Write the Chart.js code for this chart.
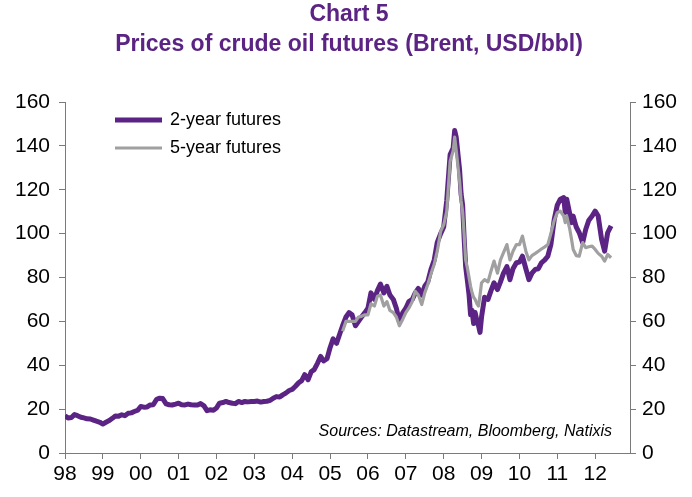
<!DOCTYPE html>
<html><head><meta charset="utf-8">
<script src="https://cdn.jsdelivr.net/npm/chart.js@4.4.1/dist/chart.umd.min.js"></script>
<style>html,body{margin:0;padding:0;background:#fff}#wrap{width:692px;height:497px;position:relative}</style>
</head><body><div id="wrap"><canvas id="c" width="692" height="497"></canvas></div>
<script>
const titleLines = ["Chart 5", "Prices of crude oil futures (Brent, USD/bbl)"];
const seriesNames = ["2-year futures", "5-year futures"];
const sourceNote = "Sources: Datastream, Bloomberg, Natixis";
const yearTicks = [1998,1999,2000,2001,2002,2003,2004,2005,2006,2007,2008,2009,2010,2011,2012];
const valueTicks = [0,20,40,60,80,100,120,140,160];

const dates2y = [
1998.00,1998.08,1998.17,1998.25,1998.33,1998.42,1998.50,1998.58,1998.67,1998.75,1998.83,1998.92,
1999.00,1999.08,1999.17,1999.25,1999.33,1999.42,1999.50,1999.58,1999.67,1999.75,1999.83,1999.92,
2000.00,2000.08,2000.17,2000.25,2000.33,2000.42,2000.50,2000.58,2000.67,2000.75,2000.83,2000.92,
2001.00,2001.08,2001.17,2001.25,2001.33,2001.42,2001.50,2001.58,2001.67,2001.75,2001.83,2001.92,
2002.00,2002.08,2002.17,2002.25,2002.33,2002.42,2002.50,2002.58,2002.67,2002.75,2002.83,2002.92,
2003.00,2003.08,2003.17,2003.25,2003.33,2003.42,2003.50,2003.58,2003.67,2003.75,2003.83,2003.92,
2004.00,2004.08,2004.17,2004.25,2004.33,2004.42,2004.50,2004.58,2004.67,2004.75,2004.83,2004.92,
2005.00,2005.08,2005.17,2005.25,2005.33,2005.42,2005.50,2005.58,2005.67,2005.75,2005.83,2005.92,
2006.00,2006.08,2006.17,2006.25,2006.33,2006.42,2006.50,2006.58,2006.67,2006.75,2006.83,2006.92,
2007.00,2007.08,2007.17,2007.25,2007.33,2007.42,2007.50,2007.58,2007.67,2007.75,2007.83,2007.92,
2008.00,2008.08,2008.17,2008.25,2008.29,2008.33,2008.42,2008.46,2008.50,2008.54,2008.58,2008.63,2008.67,2008.71,2008.75,2008.79,2008.83,2008.88,2008.92,2008.96,
2009.00,2009.08,2009.17,2009.25,2009.33,2009.42,2009.50,2009.58,2009.67,2009.75,2009.83,2009.92,
2010.00,2010.08,2010.17,2010.25,2010.33,2010.42,2010.50,2010.58,2010.67,2010.75,2010.83,2010.92,
2011.00,2011.08,2011.17,2011.21,2011.25,2011.33,2011.38,2011.42,2011.50,2011.58,2011.67,2011.75,2011.83,2011.92,
2012.00,2012.08,2012.17,2012.25,2012.33,2012.42];
const fut2y = [
17.0,16.0,16.2,17.5,17.0,16.3,16.0,15.6,15.5,15.0,14.5,14.0,
13.2,14.0,14.8,15.8,16.9,16.8,17.4,17.0,18.1,18.3,18.9,19.5,
21.2,20.9,21.0,21.9,22.0,24.5,25.0,24.8,22.4,22.0,21.9,22.3,
22.7,22.0,21.9,22.3,22.0,21.9,21.9,22.5,21.5,19.3,19.7,19.5,
20.5,22.7,23.0,23.5,23.0,22.7,22.5,23.5,23.0,23.5,23.3,23.5,
23.5,23.7,23.2,23.5,23.6,24.0,25.0,25.7,25.5,26.5,27.3,28.5,
29.0,30.3,32.0,33.0,35.7,33.4,37.0,38.0,41.0,44.0,42.0,43.0,
48.0,52.0,50.0,54.0,58.0,62.0,64.0,63.0,58.0,60.0,62.0,64.0,
66,73,70,74,77,73,76,72,70,66,60,64,
66,69,70,73,75,72,76,78,84,88,96,100,
103,115,136,139,147,144,129,118,113,98,85,78,72,63,65,59,64,60,58,55,
62,71,70,74,77.6,74.5,78,82,85,79,84,86.7,
87,89.7,84,79,82,83.7,84,86.7,88,89.7,95,106.5,
113,115.7,116.4,109.6,115.7,109,105,108,103,100.4,95.9,101.9,106,108,
110.3,108,97.4,92,100.4,103.5];

const dates5y = [
2005.33,2005.42,2005.50,2005.58,2005.67,2005.75,2005.83,2005.92,
2006.00,2006.08,2006.17,2006.25,2006.33,2006.42,2006.50,2006.58,2006.67,2006.75,2006.83,2006.92,
2007.00,2007.08,2007.17,2007.25,2007.33,2007.42,2007.50,2007.58,2007.67,2007.75,2007.83,2007.92,
2008.00,2008.08,2008.17,2008.25,2008.29,2008.33,2008.42,2008.46,2008.50,2008.54,2008.58,2008.63,2008.67,2008.71,2008.75,2008.79,2008.83,2008.88,2008.92,2008.96,
2009.00,2009.08,2009.17,2009.25,2009.33,2009.42,2009.50,2009.58,2009.67,2009.75,2009.83,2009.92,
2010.00,2010.08,2010.17,2010.25,2010.33,2010.42,2010.50,2010.58,2010.67,2010.75,2010.83,2010.92,
2011.00,2011.08,2011.17,2011.21,2011.25,2011.33,2011.38,2011.42,2011.50,2011.58,2011.67,2011.75,2011.83,2011.92,
2012.00,2012.08,2012.17,2012.25,2012.33,2012.42];
const fut5y = [
55.5,60,60,60,60,62,62.3,63,
63,68,67,71.5,72,67,69,65,64,62,58,61,
64,66,69,73.7,72,67.7,73,76.8,82,86,92,101,
104,110,133,137.7,144,138,124,115,110,99.7,88,84,80,76,73,71,70,68,67,72,
77.6,79,78,83,87.5,82,88,91.3,95,88,92,95,
95,98.9,92,88,90,91,92,93,94,95,100,106,
109.6,110.3,108,105,108,102,97,92.8,90,89.7,95.9,93.6,94,94.3,
92.8,91,89.7,87.5,90.5,89];

const PURPLE = '#5b2383';
const GREY = '#a0a0a0';
const AXIS = '#7a7a7a';
const FONT = "'Liberation Sans', Arial, sans-serif";

const toXY = (xs, ys) => xs.map((x, i) => ({x: x, y: ys[i]}));

const decor = {
  id: 'decor',
  afterDraw(chart) {
    const ctx = chart.ctx;
    ctx.save();
    ctx.fillStyle = PURPLE;
    ctx.textAlign = 'center';
    ctx.textBaseline = 'middle';
    ctx.font = "bold 23px " + FONT;
    ctx.fillText(titleLines[0], 349, 15);
    ctx.fillText(titleLines[1], 349, 45);
    const items = [{c: PURPLE, w: 5, y: 120}, {c: GREY, w: 3, y: 148}];
    items.forEach((it, i) => {
      ctx.strokeStyle = it.c; ctx.lineWidth = it.w;
      ctx.beginPath(); ctx.moveTo(115, it.y); ctx.lineTo(162, it.y); ctx.stroke();
      ctx.fillStyle = '#000'; ctx.textAlign = 'left';
      ctx.font = "18px " + FONT;
      ctx.fillText(seriesNames[i], 170, it.y);
    });
    ctx.font = "italic 16px " + FONT;
    ctx.textAlign = 'right';
    ctx.fillStyle = '#000';
    ctx.fillText(sourceNote, 612, 432);
    ctx.restore();
  }
};

const yScale = (pos, width, pad) => ({
  type: 'linear', position: pos, min: 0, max: 160,
  afterBuildTicks: s => { s.ticks = valueTicks.map(v => ({value: v})); },
  afterFit: s => { s.width = width; },
  ticks: {color: '#000', font: {family: FONT, size: 21}, padding: pad},
  grid: {drawOnChartArea: false, drawTicks: true, tickLength: 6, color: AXIS},
  border: {display: true, color: AXIS, width: 1}
});

new Chart(document.getElementById('c'), {
  type: 'line',
  data: {
    datasets: [
      {label: seriesNames[0], data: toXY(dates2y, fut2y), borderColor: PURPLE, borderWidth: 5,
       pointRadius: 0, tension: 0, borderJoinStyle: 'round', order: 1, yAxisID: 'y'},
      {label: seriesNames[1], data: toXY(dates5y, fut5y), borderColor: GREY, borderWidth: 3.2,
       pointRadius: 0, tension: 0, borderJoinStyle: 'round', order: 0, yAxisID: 'y'}
    ]
  },
  options: {
    responsive: false, animation: false, devicePixelRatio: 1,
    layout: {padding: {top: 102, left: 0, right: 0, bottom: 0}},
    plugins: {legend: {display: false}, title: {display: false}, tooltip: {enabled: false}},
    scales: {
      x: {
        type: 'linear', position: 'bottom', min: 1998, max: 2012.92,
        afterBuildTicks: s => { s.ticks = yearTicks.map(v => ({value: v})); },
        afterFit: s => { s.height = 44; },
        ticks: {color: '#000', font: {family: FONT, size: 21}, padding: 3, maxRotation: 0, autoSkip: false,
                callback: v => String(v % 100).padStart(2, '0')},
        grid: {drawOnChartArea: false, drawTicks: true, tickLength: 6, color: AXIS},
        border: {display: true, color: AXIS, width: 1}
      },
      y: yScale('left', 65, 9),
      y2: yScale('right', 62, 6)
    }
  },
  plugins: [decor]
});
</script></body></html>
